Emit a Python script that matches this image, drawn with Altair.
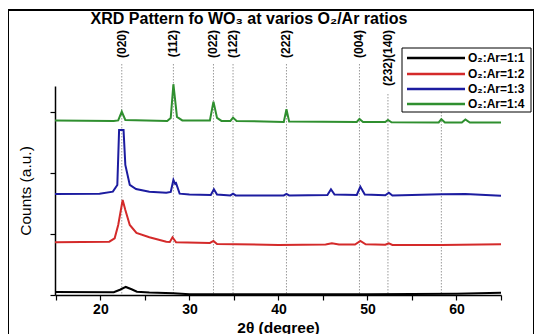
import altair as alt
import pandas as pd

series_names = ["O₂:Ar=1:1", "O₂:Ar=1:2", "O₂:Ar=1:3", "O₂:Ar=1:4"]
series_colors = ["#000000", "#d42a2a", "#1c1ca0", "#2f8f2f"]

# 2theta (degree) and counts (a.u.)
x_black = [14.9, 21.5, 22.2, 22.85, 23.5, 24.1, 25.5, 28.2, 30.0, 40.0, 50.0, 60.0, 65.0]
y_black = [50, 45, 86, 132, 94, 53, 40, 30, 14, 14, 14, 19, 36]

x_red = [14.9, 21.0, 21.6, 22.0, 22.5, 22.8, 23.3, 24.05, 25.5, 27.4, 27.8, 28.1, 28.5,
         32.3, 32.7, 33.1, 40.0, 45.3, 46.0, 46.8, 48.6, 49.2, 49.8, 52.0, 52.4, 52.8,
         58.3, 65.0]
y_red = [864, 874, 930, 1148, 1558, 1394, 1148, 1017, 946, 874, 869, 946, 864,
         853, 886, 836, 820, 828, 848, 828, 828, 886, 831, 823, 848, 820,
         820, 831]

x_blue = [14.9, 19.9, 21.4, 21.9, 22.1, 22.6, 22.8, 23.3, 24.0, 25.5, 27.4, 27.9, 28.2,
          28.4, 28.5, 28.9, 30.0, 32.4, 32.75, 33.1, 34.6, 34.9, 35.2, 40.6, 40.9, 41.2,
          45.5, 45.9, 46.3, 48.8, 49.2, 49.7, 52.0, 52.4, 52.8, 58.3, 61.0, 65.0]
y_blue = [1656, 1661, 1694, 1804, 2706, 2706, 2132, 1804, 1738, 1694, 1678, 1689, 1886,
          1820, 1832, 1661, 1648, 1640, 1733, 1648, 1632, 1661, 1632, 1632, 1656, 1632,
          1640, 1733, 1648, 1640, 1776, 1648, 1635, 1678, 1632, 1651, 1656, 1628]

x_green = [14.9, 21.5, 22.0, 22.4, 22.8, 27.5, 27.9, 28.2, 28.6, 29.2, 32.3, 32.7, 33.1,
           33.6, 34.6, 34.9, 35.3, 40.6, 40.9, 41.2, 48.8, 49.1, 49.5, 52.0, 52.3, 52.7,
           58.0, 58.3, 58.7, 60.6, 61.0, 61.5, 65.0]
y_green = [2862, 2854, 2862, 3006, 2870, 2854, 2903, 3455, 2919, 2862, 2862, 3170, 2903,
           2854, 2854, 2908, 2854, 2837, 3045, 2845, 2837, 2886, 2837, 2837, 2870, 2832,
           2829, 2882, 2829, 2829, 2878, 2826, 2826]

peak_pos = [22.4, 28.2, 32.7, 34.9, 40.9, 49.1, 52.3, 58.3]
peak_labels = ["(020)", "(112)", "(022)", "(122)", "(222)", "(004)", "(232)(140)", ""]

x_ticks = [15, 20, 25, 30, 35, 40, 45, 50, 55, 60, 65]
y_ticks = [0, 1000, 2000, 3000]

FONT = "Liberation Sans"
PX = 3426 / 209.0          # counts per pixel of plot height
LABEL_TOP = 265 * PX       # labels hang from just under the title

rows = []
for name, xs_, ys_ in [(series_names[0], x_black, y_black), (series_names[1], x_red, y_red),
                       (series_names[2], x_blue, y_blue), (series_names[3], x_green, y_green)]:
    for i, (a, b) in enumerate(zip(xs_, ys_)):
        rows.append({"series": name, "theta": a, "counts": b, "order": i})
df = pd.DataFrame(rows)
peaks = pd.DataFrame({"pos": peak_pos, "label": peak_labels})
# dotted guide starts just below its (top-aligned) label; unlabeled one is hidden under legend
peaks["top"] = [LABEL_TOP - (6.0 * len(s) + 4) * PX if s else LABEL_TOP - 40 * PX
                for s in peak_labels]
one = pd.DataFrame({"t": ["XRD Pattern fo WO₃ at varios O₂/Ar ratios"]})

xs = alt.Scale(domain=[14.9, 65], nice=False, zero=False)
ys = alt.Scale(domain=[0, 3426], nice=False, zero=False)

rules = alt.Chart(peaks).mark_rule(strokeDash=[1.5, 1.5], color="#9a9a9a", strokeWidth=1).encode(
    x=alt.X("pos:Q", scale=xs),
    y=alt.Y("top:Q", scale=ys),
    y2=alt.datum(0),
)

labels = alt.Chart(peaks).mark_text(angle=270, align="right", baseline="middle", font=FONT,
                                    fontSize=12, fontWeight="bold", color="black").encode(
    x=alt.X("pos:Q", scale=xs),
    y=alt.datum(LABEL_TOP, scale=ys),
    text="label:N",
)

lines = alt.Chart(df).mark_line(strokeWidth=2).encode(
    x=alt.X("theta:Q", scale=xs, title="2θ (degree)",
            axis=alt.Axis(values=x_ticks, labelExpr="datum.value % 10 == 0 ? datum.label : ''")),
    y=alt.Y("counts:Q", scale=ys, title="Counts (a.u.)",
            axis=alt.Axis(values=y_ticks, labels=False)),
    color=alt.Color("series:N", scale=alt.Scale(domain=series_names, range=series_colors),
                    legend=None),
    order="order:Q",
)

title = alt.Chart(one).mark_text(font=FONT, fontSize=16, fontWeight="bold", color="black",
                                 align="center", baseline="middle").encode(
    x=alt.value(194), y=alt.value(-67), text="t:N")

frame = alt.Chart(one).mark_rect(fill="transparent", stroke="black", strokeWidth=2).encode(
    x=alt.value(-47), x2=alt.value(479), y=alt.value(-76), y2=alt.value(262))

# legend (box, sample lines, labels)
leg_box = alt.Chart(one).mark_rect(fill="white", stroke="black", strokeWidth=1).encode(
    x=alt.value(347), x2=alt.value(476), y=alt.value(-38), y2=alt.value(26))
leg_layers = [leg_box]
row_y = [-28, -12, 3, 18]
for name, col, ry in zip(series_names, series_colors, row_y):
    d = pd.DataFrame({"series": [name]})
    leg_layers.append(alt.Chart(d).mark_rule(strokeWidth=2.5, color=col).encode(
        x=alt.value(352), x2=alt.value(410), y=alt.value(ry)))
    leg_layers.append(alt.Chart(d).mark_text(font=FONT, fontSize=12, fontWeight="bold",
                                             color="black", align="left", baseline="middle").encode(
        x=alt.value(413), y=alt.value(ry), text="series:N"))

chart = alt.layer(rules, lines, *leg_layers, labels, title, frame).properties(
    width=446, height=209,
    autosize=alt.AutoSizeParams(type="none"),
    padding={"left": 47, "top": 78, "right": 33, "bottom": 40},
).configure_view(stroke=None).configure_axis(
    domainColor="black", domainWidth=1.5, tickColor="black", tickWidth=1.2, tickSize=5,
    grid=False, labelFont=FONT, titleFont=FONT, labelColor="black", titleColor="black",
).configure_axisX(
    labelFontSize=14, labelFontWeight="bold", titleFontSize=15.5, titleFontWeight="bold",
    labelPadding=2, titlePadding=4,
).configure_axisY(
    titleFontSize=15.5, titleFontWeight="normal", titlePadding=16,
)

chart.save("out.html", embed_options={"renderer": "svg", "actions": False})
